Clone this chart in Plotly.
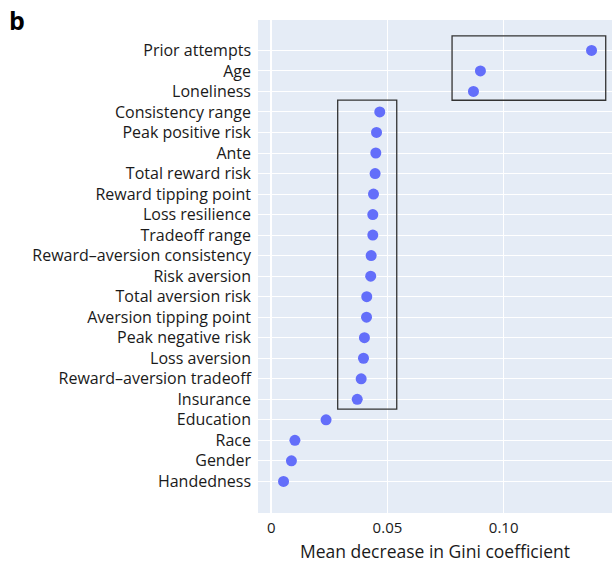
import plotly.graph_objects as go

features = [
    "Prior attempts", "Age", "Loneliness", "Consistency range", "Peak positive risk",
    "Ante", "Total reward risk", "Reward tipping point", "Loss resilience",
    "Tradeoff range", "Reward–aversion consistency", "Risk aversion",
    "Total aversion risk", "Aversion tipping point", "Peak negative risk",
    "Loss aversion", "Reward–aversion tradeoff", "Insurance", "Education",
    "Race", "Gender", "Handedness",
]
gini_decrease = [
    0.1378, 0.0900, 0.0870, 0.0467, 0.0453, 0.0450, 0.0447, 0.0440, 0.0437,
    0.0437, 0.0430, 0.0428, 0.0411, 0.0410, 0.0401, 0.0397, 0.0387, 0.0370,
    0.0236, 0.0102, 0.0087, 0.0053,
]
x_ticks = [0, 0.05, 0.10]
x_tick_labels = ["0", "0.05", "0.10"]

# highlighted groups: (x0, x1, first row - pad, last row + pad)
groups = [
    (0.0778, 0.1439, -0.71, 2.43),
    (0.0286, 0.0540, 2.42, 17.48),
]

rows = list(range(len(features)))
FONT = "Open Sans"

fig = go.Figure()
fig.add_trace(go.Scatter(
    x=gini_decrease, y=rows, mode="markers",
    marker=dict(color="#636efa", size=11),
    showlegend=False,
))

for x0, x1, y0, y1 in groups:
    fig.add_shape(type="rect", xref="x", yref="y", x0=x0, x1=x1, y0=y0, y1=y1,
                  line=dict(color="#333333", width=1.3), fillcolor="rgba(0,0,0,0)")

fig.add_annotation(text="<b>b</b>", xref="paper", yref="paper", x=-0.71, y=1.0,
                   xanchor="left", yanchor="middle", showarrow=False,
                   font=dict(family=FONT, size=25, color="#000000"))

fig.update_layout(
    width=612, height=563,
    margin=dict(l=258, r=0, t=20, b=50),
    paper_bgcolor="white", plot_bgcolor="#e5ecf6",
    font=dict(family=FONT, size=16, color="#1a1a1a"),
    xaxis=dict(
        range=[-0.00568, 0.1466], tickvals=x_ticks, ticktext=x_tick_labels,
        showgrid=True, gridcolor="white", gridwidth=1,
        zeroline=True, zerolinecolor="white", zerolinewidth=2,
        title=dict(text="Mean decrease in Gini coefficient", standoff=9,
                   font=dict(size=17.5)),
        tickfont=dict(size=15), ticks="", showline=False, ticklabelstandoff=4,
    ),
    yaxis=dict(
        range=[22.54, -1.48], tickvals=rows, ticktext=features,
        showgrid=True, gridcolor="white", gridwidth=1, zeroline=False,
        ticks="", tickfont=dict(size=16), showline=False, ticklabelstandoff=6,
    ),
)

fig.write_html("out.html")
